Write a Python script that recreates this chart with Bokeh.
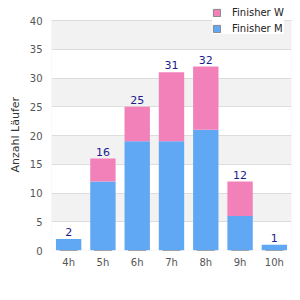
from bokeh.plotting import figure
from bokeh.models import (ColumnDataSource, Legend, LegendItem, SingleIntervalTicker,
                          Range1d, BoxAnnotation, Title)
from bokeh.core.properties import value
from bokeh.embed import file_html
from bokeh.resources import INLINE

categories = ["4h", "5h", "6h", "7h", "8h", "9h", "10h"]
finisher_m = [2, 12, 19, 19, 21, 6, 1]
finisher_w = [0, 4, 6, 12, 11, 6, 0]
totals = [m + w for m, w in zip(finisher_m, finisher_w)]
y_ticks_max = 40

FONT = "DejaVu Sans"
BLUE = "#60a8f4"
PINK = "#f281b9"
FRAME_H = 250   # frame from canvas top to axis baseline
PLOT_TOP = 20   # where the value 40 sits

src = ColumnDataSource(dict(cat=categories, m=finisher_m, w=finisher_w,
                            total=totals, label=[str(t) for t in totals]))

y_end = y_ticks_max * FRAME_H / (FRAME_H - PLOT_TOP)
p = figure(x_range=categories, y_range=Range1d(0, y_end), width=300, height=300,
           output_backend="svg", toolbar_location=None,
           min_border_left=51, min_border_right=9, min_border_top=0, min_border_bottom=50)
p.extra_y_ranges = {"off": Range1d(1000, 1001)}
p.background_fill_color = "white"
p.border_fill_color = "white"
p.outline_line_color = None

p.vbar_stack(["m", "w"], x="cat", width=0.74, source=src, color=[BLUE, PINK],
             line_color=None)

p.text(x="cat", y="total", text="label", source=src, text_align="center",
       text_baseline="bottom", y_offset=-3, text_color="#1c1c8c",
       text_font_size="11px", text_font=value(FONT))

# plot-area border from 0 to the top tick
p.add_layout(BoxAnnotation(bottom=0, top=y_ticks_max, fill_color=None, fill_alpha=0,
                           line_color="#d9d9d9", line_width=1))

# legend-only renderers (drawn on an off-screen range, so only their swatch shows)
lw = p.vbar(x="cat", top="w", width=0.5, source=src, y_range_name="off",
            fill_color=PINK, line_color="#888888")
lm = p.vbar(x="cat", top="m", width=0.5, source=src, y_range_name="off",
            fill_color=BLUE, line_color="#888888")
legend = Legend(items=[LegendItem(label="Finisher W", renderers=[lw]),
                       LegendItem(label="Finisher M", renderers=[lm])],
                location=(161, 216), background_fill_color="white",
                background_fill_alpha=1, border_line_color=None,
                label_text_font=FONT, label_text_font_size="10px",
                label_text_color="#222222", glyph_width=9, glyph_height=9,
                label_height=12, spacing=4, padding=3, margin=0,
                label_standoff=11)
p.add_layout(legend, "center")

ylab = Title(text="Anzahl Läufer", align="left", offset=78, text_font=FONT,
             text_font_size="11px", text_font_style="normal", text_color="#333333")
p.add_layout(ylab, "left")

p.yaxis.ticker = SingleIntervalTicker(interval=5)

for ax in (p.xaxis, p.yaxis):
    ax.axis_line_color = None
    ax.major_tick_line_color = None
    ax.minor_tick_line_color = None
    ax.major_tick_out = 0
    ax.major_tick_in = 0
    ax.minor_tick_out = 0
    ax.major_label_text_font = FONT
    ax.major_label_text_font_size = "10px"
    ax.major_label_text_color = "#555555"
p.yaxis.major_label_standoff = 9
p.xaxis.major_label_standoff = 6

p.xgrid.grid_line_color = None
p.ygrid.grid_line_color = "#dddddd"
p.ygrid.band_fill_color = "#f2f2f2"
p.ygrid.band_fill_alpha = 1
p.x_range.range_padding = 0

open("out.html", "w").write(file_html(p, INLINE))
